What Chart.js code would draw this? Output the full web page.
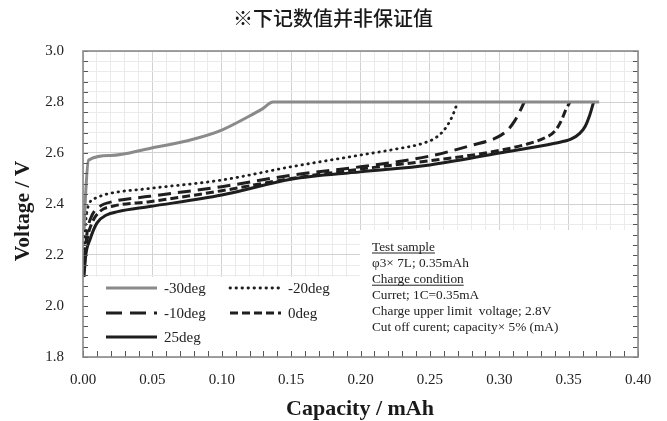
<!DOCTYPE html>
<html><head><meta charset="utf-8">
<script src="https://cdn.jsdelivr.net/npm/chart.js@4"></script>
<style>html,body{margin:0;padding:0;background:#fff}canvas{display:block}</style>
</head><body>
<canvas id="c" width="667" height="421" style="width:667px;height:421px"></canvas>
<script>
const titleText = '※下记数值并非保证值';
const xTitle = 'Capacity / mAh';
const yTitle = 'Voltage / V';
const seriesLabels = ['-30deg', '-20deg', '-10deg', '0deg', '25deg'];

const cap_m30  = [0.0008, 0.002, 0.004, 0.02, 0.048, 0.08, 0.10, 0.119, 0.129, 0.137, 0.372];
const volt_m30 = [2.30, 2.45, 2.572, 2.590, 2.618, 2.655, 2.69, 2.742, 2.772, 2.80, 2.80];

const cap_m20  = [0.0008, 0.002, 0.004, 0.01, 0.018, 0.048, 0.10, 0.15, 0.20, 0.225, 0.245, 0.255, 0.262, 0.267, 0.270];
const volt_m20 = [2.20, 2.33, 2.395, 2.425, 2.44, 2.461, 2.494, 2.546, 2.592, 2.615, 2.638, 2.663, 2.703, 2.755, 2.80];

const cap_m10  = [0.0008, 0.003, 0.006, 0.012, 0.022, 0.048, 0.10, 0.15, 0.20, 0.25, 0.28, 0.298, 0.306, 0.311, 0.315, 0.318];
const volt_m10 = [2.17, 2.29, 2.35, 2.39, 2.41, 2.43, 2.468, 2.513, 2.546, 2.588, 2.63, 2.66, 2.69, 2.725, 2.765, 2.80];

const cap_0    = [0.0008, 0.003, 0.006, 0.012, 0.022, 0.048, 0.10, 0.15, 0.20, 0.25, 0.29, 0.32, 0.333, 0.34, 0.345, 0.348, 0.351];
const volt_0   = [2.15, 2.26, 2.32, 2.37, 2.392, 2.409, 2.452, 2.50, 2.537, 2.57, 2.60, 2.635, 2.66, 2.685, 2.73, 2.77, 2.80];

const cap_25   = [0.0005, 0.002, 0.005, 0.01, 0.017, 0.025, 0.048, 0.10, 0.15, 0.20, 0.25, 0.30, 0.34, 0.352, 0.358, 0.362, 0.365, 0.368];
const volt_25  = [2.10, 2.20, 2.26, 2.325, 2.357, 2.37, 2.39, 2.435, 2.497, 2.526, 2.553, 2.60, 2.638, 2.655, 2.677, 2.705, 2.745, 2.80];

const noteLines = ['Test sample', 'φ3× 7L; 0.35mAh', 'Charge condition', 'Curret; 1C=0.35mA', 'Charge upper limit  voltage; 2.8V', 'Cut off curent; capacity× 5% (mA)'];
const noteUnderline = [true, false, true, false, false, false];

const caps = [cap_m30, cap_m20, cap_m10, cap_0, cap_25];
const volts = [volt_m30, volt_m20, volt_m10, volt_0, volt_25];
const styles = [
  {color: '#8a8a8a', dash: [], cap: 'butt', width: 3},
  {color: '#1e1e1e', dash: [0.5, 5.5], cap: 'round', width: 2.8},
  {color: '#1e1e1e', dash: [13, 7], cap: 'butt', width: 3},
  {color: '#1e1e1e', dash: [8, 4], cap: 'butt', width: 3},
  {color: '#1e1e1e', dash: [], cap: 'butt', width: 3}
];

const datasets = seriesLabels.map((lab, i) => ({
  label: lab,
  data: caps[i].map((c, k) => ({x: c, y: volts[i][k]})),
  borderColor: styles[i].color,
  borderDash: styles[i].dash,
  borderCapStyle: styles[i].cap,
  borderWidth: styles[i].width,
  pointRadius: 0,
  fill: false,
  cubicInterpolationMode: 'monotone'
}));

const isMajorX = v => Math.round(v * 100) % 5 === 0;
const isMajorY = v => Math.round(v * 100) % 20 === 0;
const serif = "'Liberation Serif', 'Times New Roman', serif";

const deco = {
  id: 'deco',
  afterDatasetsDraw(chart) {
    const {ctx, chartArea: a, scales: {x, y}} = chart;
    ctx.save();
    ctx.fillStyle = '#ffffff';
    ctx.fillRect(a.left, 277, 360 - a.left, a.bottom - 277);
    ctx.fillRect(360, 230, a.right - 360, a.bottom - 230);

    // inner ticks
    ctx.strokeStyle = '#555';
    ctx.lineWidth = 1;
    ctx.beginPath();
    y.ticks.forEach(t => {
      const py = Math.round(y.getPixelForValue(t.value)) + 0.5;
      ctx.moveTo(a.left, py); ctx.lineTo(a.left + 5, py);
      ctx.moveTo(a.right - 5, py); ctx.lineTo(a.right, py);
    });
    x.ticks.forEach(t => {
      const px = Math.round(x.getPixelForValue(t.value)) + 0.5;
      ctx.moveTo(px, a.bottom); ctx.lineTo(px, a.bottom - 6);
    });
    ctx.stroke();

    // border
    ctx.strokeStyle = '#8a8a8a';
    ctx.lineWidth = 1.6;
    ctx.strokeRect(a.left, a.top, a.right - a.left, a.bottom - a.top);

    // legend
    const legPos = [[106, 288], [230, 288], [106, 313], [230, 313], [106, 337]];
    chart.data.datasets.forEach((ds, i) => {
      const [lx, ly] = legPos[i];
      ctx.beginPath();
      ctx.strokeStyle = ds.borderColor;
      ctx.lineWidth = ds.borderWidth;
      ctx.lineCap = ds.borderCapStyle;
      ctx.setLineDash(i === 2 ? [16, 8] : ds.borderDash);
      ctx.moveTo(lx, ly); ctx.lineTo(lx + 51, ly);
      ctx.stroke();
      ctx.setLineDash([]);
      ctx.lineCap = 'butt';
      ctx.fillStyle = '#222';
      ctx.font = '15px ' + serif;
      ctx.textBaseline = 'middle';
      ctx.textAlign = 'left';
      ctx.fillText(ds.label, lx + 58, ly + 1);
    });

    // note
    ctx.font = '13.3px ' + serif;
    ctx.fillStyle = '#222';
    ctx.textBaseline = 'alphabetic';
    noteLines.forEach((s, i) => {
      const by = 250.5 + i * 16.1;
      ctx.fillText(s, 372, by);
      if (noteUnderline[i]) {
        const w = ctx.measureText(s).width;
        ctx.fillRect(372, by + 2, w, 1);
      }
    });
    ctx.restore();
  },
  afterDraw(chart) {
    const {ctx, chartArea: a} = chart;
    ctx.save();
    ctx.fillStyle = '#1a1a1a';
    ctx.textAlign = 'center';
    ctx.textBaseline = 'middle';
    ctx.font = "500 20px 'Noto Sans CJK SC', sans-serif";
    ctx.fillText(titleText, 333, 18);
    ctx.font = 'bold 22px ' + serif;
    ctx.fillText(xTitle, 360, 409);
    ctx.font = 'bold 21.5px ' + serif;
    ctx.translate(23, 211);
    ctx.rotate(-Math.PI / 2);
    ctx.fillText(yTitle, 0, 0);
    ctx.restore();
  }
};

new Chart(document.getElementById('c'), {
  type: 'line',
  data: {datasets},
  options: {
    responsive: false,
    devicePixelRatio: 1,
    animation: false,
    layout: {padding: {top: 51, right: 29, left: 0, bottom: 0}},
    plugins: {legend: {display: false}, title: {display: false}, tooltip: {enabled: false}},
    scales: {
      x: {
        type: 'linear', min: 0, max: 0.4,
        afterFit: s => { s.height = 64; },
        border: {display: false},
        grid: {
          drawTicks: false,
          color: c => isMajorX(c.tick.value) ? '#d2d2d2' : '#ebebeb',
          lineWidth: 1
        },
        ticks: {
          stepSize: 0.01, maxTicksLimit: 100, autoSkip: false, maxRotation: 0, minRotation: 0,
          padding: 14, color: '#222',
          font: {family: serif, size: 15},
          callback: v => isMajorX(v) ? Number(v).toFixed(2) : ''
        }
      },
      y: {
        type: 'linear', min: 1.8, max: 3.0,
        afterFit: s => { s.width = 83; },
        border: {display: false},
        grid: {
          drawTicks: false,
          color: c => isMajorY(c.tick.value) ? '#d2d2d2' : '#ebebeb',
          lineWidth: 1
        },
        ticks: {
          stepSize: 0.04, maxTicksLimit: 100, autoSkip: false,
          padding: 19, color: '#222',
          font: {family: serif, size: 15},
          callback: v => isMajorY(v) ? Number(v).toFixed(1) : ''
        }
      }
    }
  },
  plugins: [deco]
});
</script>
</body></html>
